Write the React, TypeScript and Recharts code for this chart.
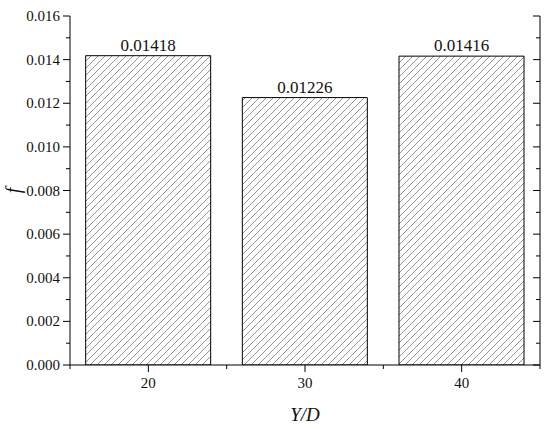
import { BarChart, Bar, XAxis, YAxis, LabelList } from "recharts";

document.body.style.margin = "0";

const categories = ["20", "30", "40"];
const frictionValues = [0.01418, 0.01226, 0.01416];
const yTicks = [
  0, 0.001, 0.002, 0.003, 0.004, 0.005, 0.006, 0.007, 0.008, 0.009, 0.01,
  0.011, 0.012, 0.013, 0.014, 0.015, 0.016,
];

const data = categories.map((c, i) => ({ yd: c, f: frictionValues[i] }));

const FONT = "Liberation Serif";
const MAJOR = 7;
const MINOR = 4;

const isMajor = (v: number) => Math.round(v * 1000) % 2 === 0;

function LeftTick({ x, y, payload }: any) {
  const major = isMajor(payload.value);
  return (
    <g>
      <line x1={x} x2={x - (major ? MAJOR : MINOR)} y1={y} y2={y} stroke="#000" />
      {major && (
        <text
          x={x - 10}
          y={y}
          textAnchor="end"
          dominantBaseline="central"
          fontFamily={FONT}
          fontSize={15}
          fill="#111"
        >
          {payload.value.toFixed(3)}
        </text>
      )}
    </g>
  );
}

function RightTick({ x, y, payload }: any) {
  const major = isMajor(payload.value);
  return <line x1={x} x2={x - (major ? MAJOR : MINOR)} y1={y} y2={y} stroke="#000" />;
}

function BottomTick({ x, y, payload, index, visibleTicksCount }: any) {
  const half = payload.offset || 470 / categories.length / 2;
  return (
    <g>
      <line x1={x} x2={x} y1={y} y2={y + MAJOR} stroke="#000" />
      <line x1={x - half} x2={x - half} y1={y} y2={y + MINOR} stroke="#000" />
      {index === visibleTicksCount - 1 && (
        <line x1={x + half} x2={x + half} y1={y} y2={y + MINOR} stroke="#000" />
      )}
      <text
        x={x}
        y={y + 23}
        textAnchor="middle"
        fontFamily={FONT}
        fontSize={15}
        fill="#111"
      >
        {payload.value}
      </text>
    </g>
  );
}

function TopTick({ x, y, payload, index, visibleTicksCount }: any) {
  const half = payload.offset || 470 / categories.length / 2;
  return (
    <g>
      <line x1={x} x2={x} y1={y} y2={y + MAJOR} stroke="#000" />
      <line x1={x - half} x2={x - half} y1={y} y2={y + MINOR} stroke="#000" />
      {index === visibleTicksCount - 1 && (
        <line x1={x + half} x2={x + half} y1={y} y2={y + MINOR} stroke="#000" />
      )}
    </g>
  );
}

export default function App() {
  return (
    <BarChart
      width={550}
      height={429}
      data={data}
      margin={{ top: 16, right: 0, bottom: 0, left: 0 }}
      barCategoryGap="10%"
    >
      <defs>
        <pattern id="hatch" patternUnits="userSpaceOnUse" width={7} height={7}>
          <path
            d="M0,7 L7,0 M-1,1 L1,-1 M6,8 L8,6"
            stroke="#777"
            strokeWidth={0.8}
          />
        </pattern>
      </defs>
      <XAxis
        dataKey="yd"
        height={64}
        axisLine={{ stroke: "#000" }}
        tickLine={false}
        tickSize={0}
        tickMargin={0}
        tick={<BottomTick />}
        interval={0}
        label={{
          content: ({ viewBox }: any) => (
            <text
              x={viewBox.x + viewBox.width / 2}
              y={viewBox.y + viewBox.height - 8}
              textAnchor="middle"
              fontFamily={FONT}
              fontStyle="italic"
              fontSize={19}
              fill="#111"
            >
              Y/D
            </text>
          ),
        }}
      />
      <XAxis
        xAxisId="top"
        dataKey="yd"
        orientation="top"
        height={0}
        axisLine={{ stroke: "#000" }}
        tickLine={false}
        tickSize={0}
        tickMargin={0}
        tick={<TopTick />}
        interval={0}
      />
      <YAxis
        width={70}
        domain={[0, 0.016]}
        ticks={yTicks}
        interval={0}
        allowDataOverflow
        axisLine={{ stroke: "#000" }}
        tickLine={false}
        tickSize={0}
        tickMargin={0}
        tick={<LeftTick />}
        label={{
          content: ({ viewBox }: any) => {
            const cx = 20;
            const cy = viewBox.y + viewBox.height / 2;
            return (
              <text
                x={cx}
                y={cy}
                transform={`rotate(-90 ${cx} ${cy})`}
                textAnchor="middle"
                fontFamily={FONT}
                fontStyle="italic"
                fontSize={20}
                fill="#111"
              >
                f
              </text>
            );
          },
        }}
      />
      <YAxis
        yAxisId="right"
        orientation="right"
        width={10}
        domain={[0, 0.016]}
        ticks={yTicks}
        interval={0}
        allowDataOverflow
        axisLine={{ stroke: "#000" }}
        tickLine={false}
        tickSize={0}
        tickMargin={0}
        tick={<RightTick />}
      />
      <Bar
        dataKey="f"
        fill="url(#hatch)"
        stroke="#000"
        strokeWidth={1}
        isAnimationActive={false}
      >
        <LabelList
          dataKey="f"
          position="top"
          offset={5}
          fontFamily={FONT}
          fontSize={17}
          fill="#111"
        />
      </Bar>
    </BarChart>
  );
}
